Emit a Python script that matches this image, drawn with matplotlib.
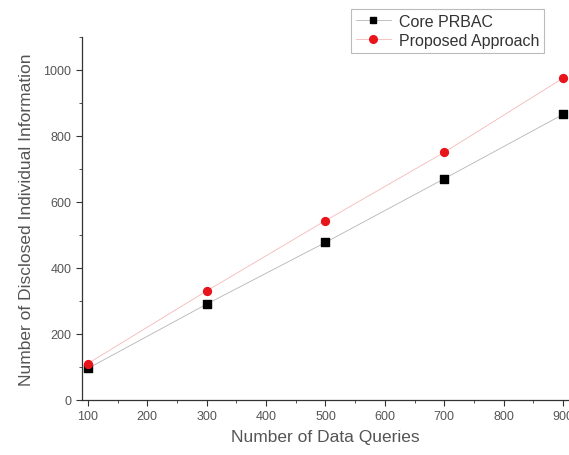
import matplotlib
matplotlib.use("Agg")
import matplotlib.pyplot as plt
from matplotlib.ticker import MultipleLocator

plt.rcParams['font.family'] = ['Liberation Sans', 'DejaVu Sans']

queries = [100, 300, 500, 700, 900]
core_prbac = [95, 290, 477, 670, 865]
proposed = [110, 330, 543, 750, 975]

fig = plt.figure(figsize=(5.69, 4.56), dpi=100)
ax = fig.add_axes([0.144, 0.121, 0.856, 0.796])

# thin connecting lines + markers
ax.plot(queries, core_prbac, '-', color='#b5b5b5', linewidth=0.6, zorder=1)
ax.plot(queries, proposed, '-', color='#f5b8b8', linewidth=0.6, zorder=1)
ax.scatter(queries, core_prbac, marker='s', s=28, color='black', zorder=3)
ax.scatter(queries, proposed, marker='o', s=32, color='#e8141c', zorder=3)

ax.set_xlim(90, 910)
ax.set_ylim(0, 1100)
ax.xaxis.set_major_locator(MultipleLocator(100))
ax.xaxis.set_minor_locator(MultipleLocator(50))
ax.yaxis.set_major_locator(MultipleLocator(200))
ax.yaxis.set_minor_locator(MultipleLocator(100))

ax.spines['top'].set_visible(False)
ax.spines['right'].set_visible(False)
for s in ('left', 'bottom'):
    ax.spines[s].set_color('#333333')
    ax.spines[s].set_linewidth(0.9)

ax.tick_params(axis='both', which='major', direction='out', length=4, labelsize=9,
               colors='#333333', labelcolor='#555555')
ax.tick_params(axis='both', which='minor', direction='out', length=2, colors='#333333')

ax.set_xlabel('Number of Data Queries', fontsize=12.5, color='#555555', labelpad=5)
ax.set_ylabel('Number of Disclosed Individual Information', fontsize=12.5, color='#555555', labelpad=7)

# legend handles
h1, = ax.plot([], [], '-', color='#b5b5b5', linewidth=0.6, marker='s', markersize=5,
              markerfacecolor='black', markeredgecolor='black')
h2, = ax.plot([], [], '-', color='#f5b8b8', linewidth=0.6, marker='o', markersize=5.5,
              markerfacecolor='#e8141c', markeredgecolor='#e8141c')
leg = fig.legend([h1, h2], ['Core PRBAC', 'Proposed Approach'], loc='upper left',
                 bbox_to_anchor=(0.603, 0.995), fontsize=11.5, frameon=True, fancybox=False,
                 handlelength=2.2, borderpad=0.3, labelspacing=0.25, handletextpad=0.5)
leg.get_frame().set_edgecolor('#aaaaaa')
leg.get_frame().set_linewidth(0.8)
for t in leg.get_texts():
    t.set_color('#333333')

fig.savefig('out.png', dpi=100)
